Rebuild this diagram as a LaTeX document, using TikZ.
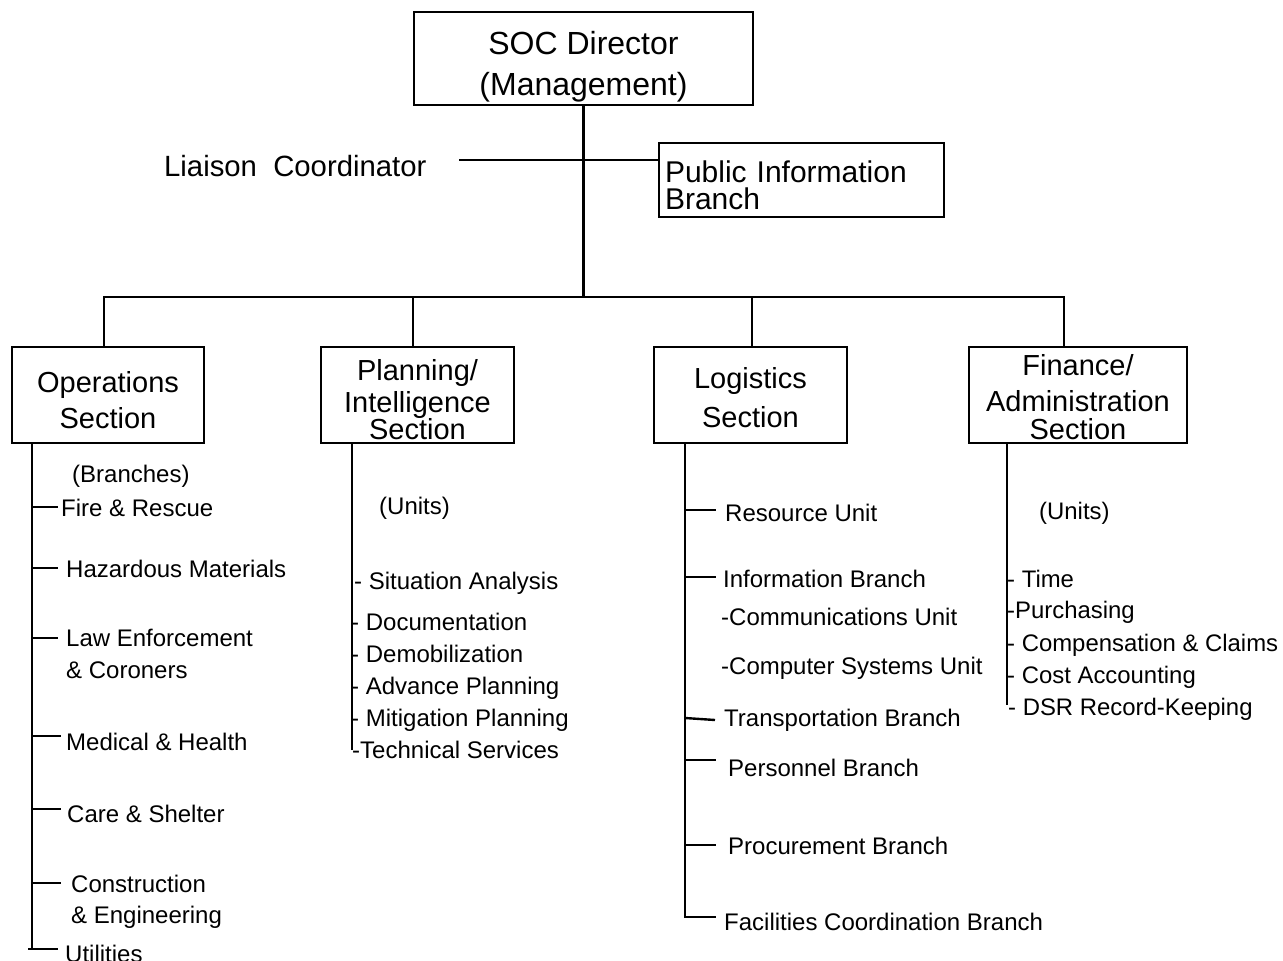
\documentclass[tikz,border=0pt]{standalone}
\usepackage{fontspec}
\setmainfont{Liberation Sans}
\begin{document}
\begin{tikzpicture}[x=1pt,y=-1pt,
  ln/.style={line width=2.4pt},
  sec/.style={draw, line width=2.4pt, inner sep=0pt, align=center},
  itm/.style={anchor=base west, inner sep=0pt, font=\fontsize{24}{28}\selectfont},
  fitm/.style={anchor=base west, inner sep=0pt, font=\fontsize{23.9}{28}\selectfont}]
\useasboundingbox[fill=white] (0,0) rectangle (1283,961);

% ---- top level boxes ----
\node[sec, minimum width=339pt, minimum height=93pt, font=\fontsize{32}{41}\selectfont]
  (soc) at (583.5,58.5) {\rule{0pt}{40pt}SOC Director\\(Management)\rule[-8pt]{0pt}{8pt}};
\node[sec, minimum width=285pt, minimum height=74pt, text width=273pt, inner xsep=6pt,
  align=left, font=\fontsize{30}{27}\selectfont]
  (pib) at (801.5,180) {\noindent\rule{0pt}{33pt}Public Information\\Branch\rule[-2pt]{0pt}{2pt}};
\node[anchor=base west, inner sep=0pt, font=\fontsize{29.3}{34}\selectfont]
  (liaison) at (164,176) {Liaison\ \ Coordinator};

% ---- sections ----
\node[sec, minimum width=192pt, minimum height=96pt, font=\fontsize{29}{36}\selectfont]
  (ops) at (108,395) {\rule{0pt}{31pt}Operations\\Section\rule[-1pt]{0pt}{1pt}};
\node[sec, minimum width=193pt, minimum height=96pt, font=\fontsize{29}{32}\selectfont]
  (plan) at (417.5,395) {\rule{0pt}{30pt}Planning/\\Intelligence\\[-5pt]Section\rule[-1pt]{0pt}{1pt}};
\node[sec, minimum width=193pt, minimum height=96pt, font=\fontsize{29}{39}\selectfont]
  (log) at (750.5,395) {\rule{0pt}{26pt}Logistics\\Section\rule[-1pt]{0pt}{1pt}};
\node[sec, minimum width=218pt, minimum height=96pt, font=\fontsize{29}{36}\selectfont]
  (fin) at (1078,395) {\rule{0pt}{25pt}Finance/\\Administration\\[-8pt]Section\rule[-1pt]{0pt}{1pt}};

% ---- connectors ----
\coordinate (busL) at (104,297);
\coordinate (busR) at (1064,297);
\coordinate (busP) at (413,297);
\coordinate (busG) at (752,297);
\coordinate (liaisonEnd) at (459,160);
\draw[ln] (soc.south) -- (soc.south |- busL);
\draw[ln] (liaisonEnd) -- (liaisonEnd -| pib.west);
\draw[ln] (busL |- ops.north) -- (busL) -- (busR) -- (busR |- fin.north);
\draw[ln] (busP) -- (busP |- plan.north);
\draw[ln] (busG) -- (busG |- log.north);

% ---- Operations branches ----
\coordinate (opsT) at (32,443);
\draw[ln] (opsT) -- (32,949);
\draw[ln] (28,949) -- (58,949);
\foreach \y/\xe in {507/58, 568/58, 638/58, 736/61, 809/61, 883/61}
  \draw[ln] (32,\y) -- (\xe,\y);
\node[itm] (opsBr)   at (72,482)  {(Branches)};
\node[itm] (fire)    at (61,516)  {Fire \& Rescue};
\node[itm] (haz)     at (66,577)  {Hazardous Materials};
\node[itm] (law)     at (66,646)  {Law Enforcement};
\node[itm] (lawb)    at (66,678)  {\& Coroners};
\node[itm] (med)     at (66,750)  {Medical \& Health};
\node[itm] (care)    at (67,822)  {Care \& Shelter};
\node[itm] (cons)    at (71,892)  {Construction};
\node[itm] (consb)   at (71,923)  {\& Engineering};
\node[itm] (util)    at (65,962)  {Utilities};

% ---- Planning units ----
\coordinate (planT) at (352,443);
\draw[ln] (planT) -- (352,750);
\node[itm] (planU) at (379,514) {(Units)};
\node[itm] (sit)   at (354,589) {- Situation Analysis};
\node[itm] (doc)   at (351,630) {- Documentation};
\node[itm] (demob) at (351,662) {- Demobilization};
\node[itm] (adv)   at (351,694) {- Advance Planning};
\node[itm] (mit)   at (351,726) {- Mitigation Planning};
\node[itm] (tech)  at (352,758) {-Technical Services};

% ---- Logistics branches ----
\coordinate (logT) at (685,443);
\draw[ln] (logT) -- (685,917) -- (716,917);
\foreach \y in {510, 577, 760, 845}
  \draw[ln] (685,\y) -- (716,\y);
\draw[ln] (685,718) -- (715,720);
\node[itm] (res)   at (725,521) {Resource Unit};
\node[itm] (info)  at (723,587) {Information Branch};
\node[itm] (comm)  at (721,625) {-Communications Unit};
\node[itm] (comp)  at (721,674) {-Computer Systems Unit};
\node[itm] (trans) at (724,726) {Transportation Branch};
\node[itm] (pers)  at (728,776) {Personnel Branch};
\node[itm] (proc)  at (728,854) {Procurement Branch};
\node[itm] (fac)   at (724,930) {Facilities Coordination Branch};

% ---- Finance units ----
\coordinate (finT) at (1007,443);
\draw[ln] (finT) -- (1007,705);
\node[fitm] (finU)  at (1039,519) {(Units)};
\node[fitm] (time)  at (1007,587) {- Time};
\node[fitm] (purch) at (1007,618) {-Purchasing};
\node[fitm] (compc) at (1007,651) {- Compensation \& Claims};
\node[fitm] (cost)  at (1007,683) {- Cost Accounting};
\node[fitm] (dsr)   at (1008,715) {- DSR Record-Keeping};
\end{tikzpicture}
\end{document}
